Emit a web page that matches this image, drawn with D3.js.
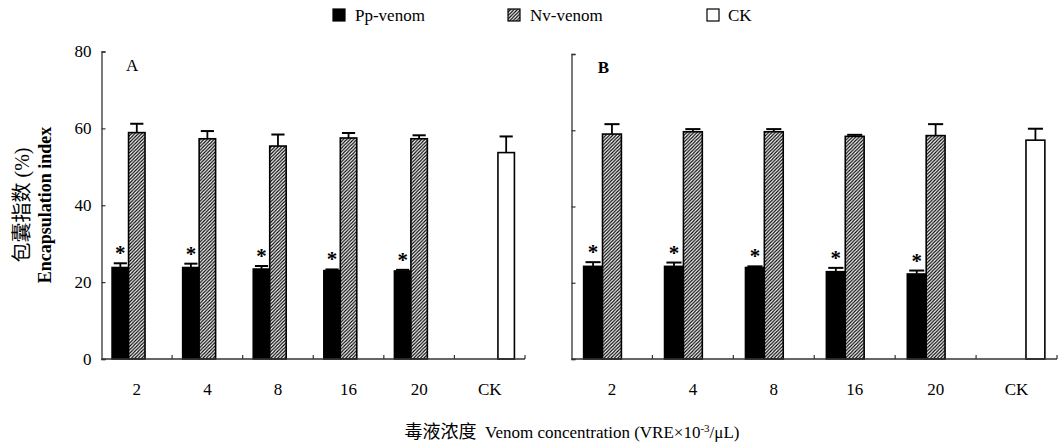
<!DOCTYPE html>
<html>
<head>
<meta charset="utf-8">
<script src="https://cdn.jsdelivr.net/npm/d3@7"></script>
<style>
  body { margin: 0; background: #fff; }
  svg text { font-family: "Liberation Serif", "Noto Sans CJK SC", serif; fill: #000; }
</style>
</head>
<body>
<div id="chart"></div>
<script>
// categories (venom concentration) and series
const categories = ["2", "4", "8", "16", "20", "CK"];
const seriesNames = ["Pp-venom", "Nv-venom", "CK"];
const yTicks = [0, 20, 40, 60, 80];

// panel A values (encapsulation index %)
const ppA = [23.8, 23.8, 23.4, 23.0, 22.9];
const ppErrA = [1.1, 1.0, 0.8, 0.3, 0.3];
const nvA = [58.9, 57.3, 55.4, 57.5, 57.3];
const nvErrA = [2.3, 2.0, 3.0, 1.3, 0.9];
const ckA = 53.7, ckErrA = 4.2;

// panel B values
const ppB = [24.3, 24.3, 24.0, 22.9, 22.3];
const ppErrB = [1.1, 1.0, 0.3, 1.0, 0.9];
const nvB = [59.0, 59.6, 59.6, 58.4, 58.6];
const nvErrB = [2.6, 0.7, 0.7, 0.4, 3.0];
const ckB = 57.4, ckErrB = 3.0;

const W = 1062, H = 445;
const svg = d3.select("#chart").append("svg")
    .attr("width", W).attr("height", H);

// hatch pattern for Nv-venom
const defs = svg.append("defs");
const pat = defs.append("pattern")
    .attr("id", "hatch")
    .attr("patternUnits", "userSpaceOnUse")
    .attr("width", 3.4).attr("height", 3.4);
pat.append("rect").attr("width", 3.4).attr("height", 3.4).attr("fill", "#fff");
pat.append("path")
    .attr("d", "M-1,1 l2,-2 M0,3.4 l3.4,-3.4 M2.4,4.4 l2,-2")
    .attr("stroke", "#000").attr("stroke-width", 1.2);

const fills = {"Pp-venom": "#000", "Nv-venom": "url(#hatch)", "CK": "#fff"};

function buildRows(pp, ppErr, nv, nvErr, ck, ckErr) {
    let rows = [];
    categories.forEach((c, i) => {
        if (c === "CK") {
            rows.push({cat: c, s: "CK", v: ck, e: ckErr});
        } else {
            rows.push({cat: c, s: "Pp-venom", v: pp[i], e: ppErr[i], star: true});
            rows.push({cat: c, s: "Nv-venom", v: nv[i], e: nvErr[i]});
        }
    });
    return rows;
}

function drawPanel(opt) {
    const g = svg.append("g");
    const x0 = d3.scaleBand().domain(categories).range([opt.left, opt.right]).padding(0);
    const step = x0.step();
    const x1 = d3.scaleBand().domain(seriesNames).range([step * 0.15, step * 0.85]).padding(0);
    const y = d3.scaleLinear().domain([0, 80]).range([opt.bottom, opt.top]);

    // bars
    g.selectAll("rect.bar").data(opt.rows).enter().append("rect")
        .attr("class", "bar")
        .attr("x", d => x0(d.cat) + x1(d.s))
        .attr("width", x1.bandwidth())
        .attr("y", d => y(d.v))
        .attr("height", d => y(0) - y(d.v))
        .attr("fill", d => fills[d.s])
        .attr("stroke", "#000")
        .attr("stroke-width", 1.6);

    // error bars (upper whisker only)
    const cap = x1.bandwidth() * 0.4;
    const eb = g.selectAll("g.err").data(opt.rows).enter().append("g")
        .attr("transform", d => "translate(" + (x0(d.cat) + x1(d.s) + x1.bandwidth() / 2) + ",0)");
    eb.append("line")
        .attr("x1", 0).attr("x2", 0)
        .attr("y1", d => y(d.v)).attr("y2", d => y(d.v + d.e))
        .attr("stroke", "#000").attr("stroke-width", 1.8);
    eb.append("line")
        .attr("x1", -cap).attr("x2", cap)
        .attr("y1", d => y(d.v + d.e)).attr("y2", d => y(d.v + d.e))
        .attr("stroke", "#000").attr("stroke-width", 2);

    // significance stars
    g.selectAll("text.star").data(opt.rows.filter(d => d.star)).enter().append("text")
        .attr("class", "star")
        .attr("x", d => x0(d.cat) + x1(d.s) + x1.bandwidth() / 2)
        .attr("y", d => y(d.v + d.e) - 3)
        .attr("text-anchor", "middle")
        .style("font-size", "21px")
        .style("font-weight", "bold")
        .text("*");

    // y axis, ticks inward
    const yAxis = d3.axisLeft(y).tickValues(yTicks).tickSize(-4).tickPadding(10)
        .tickFormat(opt.showY ? d3.format("d") : "");
    const ya = g.append("g").attr("transform", "translate(" + opt.left + ",0)").call(yAxis);
    ya.select(".domain").attr("stroke", "#333").attr("stroke-width", 1.3);
    ya.selectAll(".tick line").attr("stroke", "#333").attr("stroke-width", 1.2);
    ya.selectAll(".tick text")
        .style("font-family", "'Liberation Serif', serif")
        .style("font-size", "17px");

    // x axis line with boundary ticks
    g.append("line")
        .attr("x1", opt.left).attr("x2", opt.right)
        .attr("y1", y(0)).attr("y2", y(0))
        .attr("stroke", "#333").attr("stroke-width", 1.3);
    g.selectAll("line.xt").data(categories).enter().append("line")
        .attr("class", "xt")
        .attr("x1", d => x0(d) + step).attr("x2", d => x0(d) + step)
        .attr("y1", y(0)).attr("y2", y(0) - 4)
        .attr("stroke", "#333").attr("stroke-width", 1.2);
    g.selectAll("text.xl").data(categories).enter().append("text")
        .attr("class", "xl")
        .attr("x", d => x0(d) + step / 2)
        .attr("y", y(0) + 36)
        .attr("text-anchor", "middle")
        .style("font-size", "17px")
        .text(d => d);

    // panel letter
    g.append("text")
        .attr("x", opt.left + x1(seriesNames[0]) + 14)
        .attr("y", y(80) + 19)
        .style("font-size", "17px")
        .style("font-weight", opt.letterBold ? "bold" : "normal")
        .text(opt.letter);
}

drawPanel({left: 101.5, right: 525, top: 51.5, bottom: 359, showY: true, letter: "A",
    rows: buildRows(ppA, ppErrA, nvA, nvErrA, ckA, ckErrA)});
drawPanel({left: 571.5, right: 1057, top: 54, bottom: 359, showY: false, letter: "B", letterBold: true,
    rows: buildRows(ppB, ppErrB, nvB, nvErrB, ckB, ckErrB)});

// legend
const legendX = [333, 508, 707];
const lg = svg.append("g");
seriesNames.forEach((s, i) => {
    lg.append("rect")
        .attr("x", legendX[i]).attr("y", 9)
        .attr("width", 12).attr("height", 12)
        .attr("fill", fills[s])
        .attr("stroke", "#000").attr("stroke-width", 1.2);
    lg.append("text")
        .attr("x", legendX[i] + (s === "CK" ? 21 : 22)).attr("y", 21)
        .style("font-family", "'Liberation Serif', serif")
        .style("font-size", "17px")
        .text(s);
});

// axis titles
const yt = svg.append("g").attr("transform", "translate(0,205) rotate(-90)");
yt.append("text")
    .attr("x", 0).attr("y", 29)
    .attr("text-anchor", "middle")
    .style("font-size", "20px")
    .text("包囊指数 (%)");
yt.append("text")
    .attr("x", 0).attr("y", 51)
    .attr("text-anchor", "middle")
    .style("font-family", "'Liberation Serif', serif")
    .style("font-size", "18px")
    .style("font-weight", "bold")
    .text("Encapsulation index");

const xt = svg.append("text")
    .attr("x", 572).attr("y", 438)
    .attr("text-anchor", "middle")
    .style("font-size", "17px");
xt.append("tspan").style("font-family", "'Noto Sans CJK SC', sans-serif")
    .style("font-size", "18px").text("毒液浓度");
const latin = "'Liberation Serif', serif";
xt.append("tspan").style("font-family", latin).text("\u00a0\u00a0Venom concentration (VRE×10");
xt.append("tspan").style("font-family", latin).attr("dy", -6).style("font-size", "11px").text("-3");
xt.append("tspan").style("font-family", latin).attr("dy", 6).text("/μL)");
</script>
</body>
</html>
